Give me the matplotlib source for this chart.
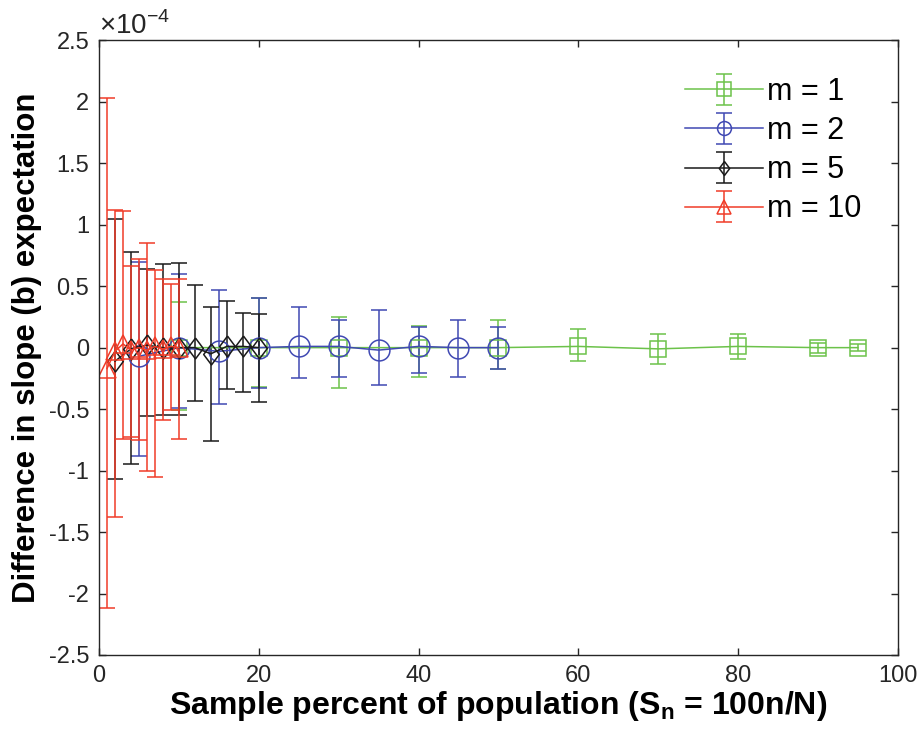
import numpy as np
import matplotlib as mpl
mpl.use('Agg')
import matplotlib.pyplot as plt
from matplotlib.ticker import FuncFormatter, MultipleLocator
from matplotlib.legend_handler import HandlerErrorbar

plt.rcParams['font.family'] = ['Liberation Sans', 'DejaVu Sans']
plt.rcParams['mathtext.fontset'] = 'custom'
plt.rcParams['mathtext.rm'] = 'Liberation Sans'
plt.rcParams['mathtext.bf'] = 'Liberation Sans:bold'

# values in units of 1e-4: mean, upper end and lower end of each bar
x_m1 = [10, 20, 30, 40, 50, 60, 70, 80, 90, 95]
mean_m1 = [0.0, 0.0, 0.0, 0.0, 0.0, 0.01, -0.01, 0.01, 0.0, 0.0]
hi_m1 = [0.37, 0.40, 0.25, 0.18, 0.225, 0.15, 0.11, 0.11, 0.04, 0.03]
lo_m1 = [-0.51, -0.32, -0.33, -0.235, -0.17, -0.11, -0.13, -0.09, -0.04, -0.03]

x_m2 = [5, 10, 15, 20, 25, 30, 35, 40, 45, 50]
mean_m2 = [-0.07, 0.0, -0.03, 0.0, 0.01, 0.01, -0.02, 0.01, 0.0, 0.0]
hi_m2 = [0.70, 0.60, 0.47, 0.40, 0.33, 0.225, 0.31, 0.17, 0.225, 0.165]
lo_m2 = [-0.88, -0.49, -0.46, -0.33, -0.25, -0.24, -0.30, -0.21, -0.235, -0.17]

x_m5 = [2, 4, 6, 8, 10, 12, 14, 16, 18, 20]
mean_m5 = [-0.11, -0.01, 0.02, 0.0, 0.0, 0.0, -0.05, 0.01, 0.01, 0.0]
hi_m5 = [1.05, 0.78, 0.64, 0.68, 0.69, 0.51, 0.33, 0.38, 0.28, 0.27]
lo_m5 = [-1.07, -0.95, -0.56, -0.55, -0.55, -0.43, -0.76, -0.34, -0.36, -0.44]

x_m10 = [1, 2, 3, 4, 5, 6, 7, 8, 9, 10]
mean_m10 = [-0.17, -0.03, 0.03, -0.02, 0.0, -0.02, 0.01, -0.01, 0.01, 0.0]
hi_m10 = [2.03, 1.12, 1.11, 0.66, 0.72, 0.85, 0.63, 0.56, 0.52, 0.56]
lo_m10 = [-2.12, -1.38, -0.74, -0.73, -0.75, -1.00, -1.05, -0.59, -0.51, -0.74]

diamond = [(0, 1), (0.75, 0), (0, -1), (-0.75, 0), (0, 1)]

series = [
    ('m = 1', x_m1, mean_m1, hi_m1, lo_m1, '#6cc24a', 's', 12),
    ('m = 2', x_m2, mean_m2, hi_m2, lo_m2, '#4049b3', 'o', 15),
    ('m = 5', x_m5, mean_m5, hi_m5, lo_m5, '#1a1a1a', diamond, 15),
    ('m = 10', x_m10, mean_m10, hi_m10, lo_m10, '#f03c28', '^', 13),
]

fig = plt.figure(figsize=(9.17, 7.46), dpi=100)
ax = fig.add_axes([0.108, 0.122, 0.871, 0.824])

for label, x, m, hi, lo, col, mk, ms in series:
    m = np.array(m)
    yerr = [m - np.array(lo), np.array(hi) - m]
    ax.errorbar(x, m, yerr=yerr, color=col, marker=mk, markersize=ms,
                markerfacecolor='none', markeredgecolor=col, markeredgewidth=1.1,
                linewidth=1.1, elinewidth=1.1, capsize=5.5, capthick=1.1,
                label=label)

ax.set_xlim(0, 100)
ax.set_ylim(-2.5, 2.5)
ax.xaxis.set_major_locator(MultipleLocator(20))
ax.yaxis.set_major_locator(MultipleLocator(0.5))
ax.yaxis.set_major_formatter(FuncFormatter(lambda v, p: '%g' % v))
ax.xaxis.set_major_formatter(FuncFormatter(lambda v, p: '%g' % v))

ax.tick_params(direction='in', length=5, width=1, colors='#262626',
               labelsize=17, top=True, right=True, pad=7)
for s in ax.spines.values():
    s.set_color('#262626')
    s.set_linewidth(1)

ax.text(0.0, 1.0, r'$\times10^{-4}$', transform=ax.transAxes,
        fontsize=20, color='#262626', va='bottom', ha='left')

ax.set_xlabel(r'Sample percent of population (S$_\mathbf{n}$ = 100n/N)',
              fontsize=23, fontweight='bold', labelpad=2)
ax.set_ylabel('Difference in slope (b) expectation', fontsize=22.5,
              fontweight='bold', labelpad=5)


def small_marker(h, orig):
    h.update_from(orig)
    if isinstance(h, mpl.lines.Line2D) and h.get_marker() not in ('_', '|', 'None', None, ''):
        h.set_markersize(10)


leg = ax.legend(loc='upper right', fontsize=22, frameon=False,
                handlelength=2.55, borderaxespad=0.8, labelspacing=0.3,
                handletextpad=0.12,
                handler_map={mpl.container.ErrorbarContainer:
                             HandlerErrorbar(update_func=small_marker)})

plt.savefig('out.png', dpi=100)
